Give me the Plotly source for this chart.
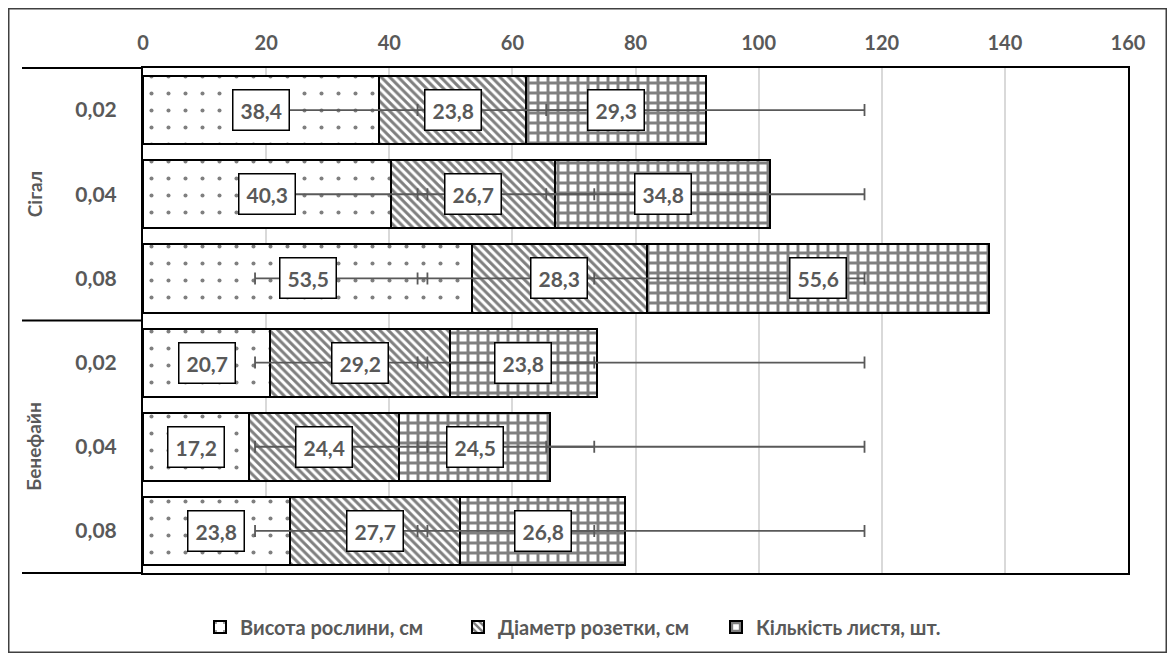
import plotly.graph_objects as go

# ---- data ----
products = ["Сігал", "Сігал", "Сігал", "Бенефайн", "Бенефайн", "Бенефайн"]
doses = ["0,02", "0,04", "0,08", "0,02", "0,04", "0,08"]
plant_height = [38.4, 40.3, 53.5, 20.7, 17.2, 23.8]
rosette_diam = [23.8, 26.7, 28.3, 29.2, 24.4, 27.7]
leaf_count = [29.3, 34.8, 55.6, 23.8, 24.5, 26.8]
series_names = ["Висота рослини, см", "Діаметр розетки, см", "Кількість листя, шт."]
err_low = [18.2, 44.6, 65.5]     # error bar left ends per series (same on every row)
err_high = [46.2, 73.3, 117.2]   # error bar right ends per series
x_ticks = [0, 20, 40, 60, 80, 100, 120, 140, 160]

TEXT = "#595959"
FONT = "Lato"

W, H = 1159, 645
L, R, T, B = 135, 39, 60, 80
PW, PH = W - L - R, H - T - B

def px(xp):  # figure px -> paper x
    return (xp - L) / PW

def py(yp):  # figure px (from top) -> paper y
    return (H - B - yp) / PH

cats = [f"{p} {d}" for p, d in zip(products, doses)]
series_vals = [plant_height, rosette_diam, leaf_count]
patterns = [
    dict(shape=".", fgcolor="black", bgcolor="white", size=17, solidity=0.045, fillmode="overlay"),
    dict(shape="\\", fgcolor="black", bgcolor="white", size=6, solidity=0.5, fillmode="overlay"),
    dict(shape="+", fgcolor="black", bgcolor="white", size=10, solidity=0.5, fillmode="overlay"),
]

fig = go.Figure()
for name, vals, pat in zip(series_names, series_vals, patterns):
    fig.add_trace(go.Bar(
        y=cats, x=vals, orientation="h", name=name,
        marker=dict(color="white", pattern=pat, line=dict(color="black", width=2)),
        hoverinfo="x+y",
    ))

# error bars
for lo, hi in zip(err_low, err_high):
    c = (lo + hi) / 2
    fig.add_trace(go.Scatter(
        y=cats, x=[c] * len(cats), mode="markers",
        marker=dict(size=1, color="rgba(0,0,0,0)"),
        error_x=dict(type="data", symmetric=True, array=[(hi - lo) / 2] * len(cats),
                     color=TEXT, thickness=1.8, width=6),
        showlegend=False, hoverinfo="skip",
    ))

annotations = []
# data labels
for i, cat in enumerate(cats):
    base = 0.0
    for vals in series_vals:
        v = vals[i]
        annotations.append(dict(
            x=base + v / 2, y=cat, xref="x", yref="y", showarrow=False,
            text=f"{v:.1f}".replace(".", ","),
            font=dict(family=FONT, size=21, color=TEXT, weight="bold"),
            bgcolor="white", bordercolor="black", borderwidth=1.5, borderpad=7,
        ))
        base += v

# group labels
for grp, mid in [("Сігал", cats[1]), ("Бенефайн", cats[4])]:
    annotations.append(dict(
        x=px(26), y=mid, xref="paper", yref="y", showarrow=False, textangle=-90,
        text=grp, font=dict(family=FONT, size=19, color=TEXT, weight="bold"),
        xanchor="center", yanchor="middle",
    ))

shapes = []
for yp in [1.0, 0.5, 0.0]:
    shapes.append(dict(type="line", xref="paper", yref="paper", x0=px(14), x1=0,
                       y0=yp, y1=yp, line=dict(color="black", width=2)))
# outer chart frame
shapes.append(dict(type="rect", xref="paper", yref="paper", x0=px(0.75), x1=px(W - 0.75),
                   y0=py(H - 0.75), y1=py(0.75), line=dict(color="#404040", width=1.5)))

fig.update_layout(
    width=W, height=H,
    margin=dict(l=L, r=R, t=T, b=B, autoexpand=False),
    paper_bgcolor="white", plot_bgcolor="white",
    barmode="stack", bargap=0.19,
    font=dict(family=FONT, color=TEXT, size=18),
    xaxis=dict(
        side="top", range=[0, 160], tickvals=x_ticks,
        tickfont=dict(family=FONT, size=20, color=TEXT, weight="bold"),
        showgrid=True, gridcolor="#d9d9d9", gridwidth=1.5,
        showline=True, linecolor="black", linewidth=2, mirror=True,
        zeroline=False, ticks="", ticklabelstandoff=8,
    ),
    yaxis=dict(
        type="category", autorange="reversed",
        tickvals=cats, ticktext=doses,
        tickfont=dict(family=FONT, size=21, color=TEXT, weight="bold"),
        showline=True, linecolor="black", linewidth=2, mirror=True,
        showgrid=False, ticks="", ticklabelstandoff=20,
    ),
    legend=dict(
        orientation="h", x=px(192), xanchor="left", y=py(619), yanchor="middle",
        font=dict(family=FONT, size=20, color=TEXT, weight="bold"),
        itemwidth=30, traceorder="normal", entrywidth=213,
    ),
    annotations=annotations,
    shapes=shapes,
)

fig.write_html("out.html")
